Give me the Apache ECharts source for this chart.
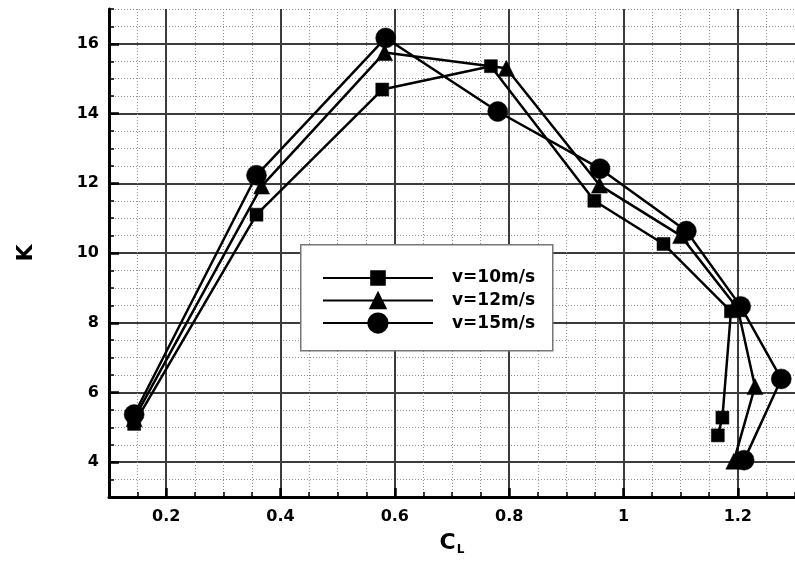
<!DOCTYPE html>
<html><head><meta charset="utf-8">
<script src="https://cdn.jsdelivr.net/npm/echarts@6/dist/echarts.min.js"></script>
<style>html,body{margin:0;padding:0;background:#fff}#c{width:795px;height:561px}</style>
</head><body><div id="c"></div>
<script>
// ---- data ----
const seriesNames = ['v=10m/s', 'v=12m/s', 'v=15m/s'];
const cl10 = [0.144, 0.358, 0.578, 0.768, 0.949, 1.070, 1.188, 1.173, 1.165];
const k10  = [5.10, 11.10, 14.69, 15.36, 11.50, 10.26, 8.33, 5.28, 4.77];
const cl12 = [0.144, 0.367, 0.582, 0.795, 0.958, 1.100, 1.200, 1.230, 1.193];
const k12  = [5.25, 11.92, 15.75, 15.30, 11.95, 10.50, 8.40, 6.17, 4.03];
const cl15 = [0.144, 0.358, 0.584, 0.780, 0.959, 1.110, 1.205, 1.276, 1.211];
const k15  = [5.37, 12.23, 16.17, 14.06, 12.42, 10.63, 8.47, 6.39, 4.06];
const xTickLabels = [0.2, 0.4, 0.6, 0.8, 1.0, 1.2];
const yTickLabels = [4, 6, 8, 10, 12, 14, 16];

const pairs = (xs, ys) => xs.map((x, i) => [x, ys[i]]);
const FONT = 'DejaVu Sans';
const labelFont = {fontFamily: FONT, fontWeight: 'bold', fontSize: 16, color: '#000'};
const isX = v => xTickLabels.some(t => Math.abs(t - v) < 1e-6);
const isY = v => yTickLabels.some(t => Math.abs(t - v) < 1e-6);

const chart = echarts.init(document.getElementById('c'), null, {renderer: 'canvas'});
const minorSplit = {show: true, lineStyle: {color: '#8f8f8f', type: [1, 2], width: 1}};
const majorSplit = {show: true, lineStyle: {color: ['transparent', '#3c3c3c'], width: 2}};

const symbols = ['rect', 'triangle', 'circle'];
const sizes = [13, 16, 20];
const legendH = [17, 19, 24];
const rowY = [278, 301.5, 324.5];

chart.setOption({
  animation: false,
  backgroundColor: '#fff',
  grid: {left: 109, top: 9, width: 688, height: 497, containLabel: false},
  xAxis: [
    {type: 'value', min: 0.1, max: 1.3, interval: 0.05, position: 'bottom',
     axisLine: {onZero: false, lineStyle: {color: '#000', width: 3}},
     axisTick: {inside: true, length: 5, lineStyle: {color: '#000', width: 1.5}},
     axisLabel: {show: false}, splitLine: minorSplit},
    {type: 'value', min: 0.1, max: 1.3, interval: 0.1, position: 'bottom',
     axisLine: {show: false}, axisTick: {show: false}, axisLabel: {show: false},
     splitLine: majorSplit},
    {type: 'value', min: 0.1, max: 1.3, interval: 0.1, position: 'bottom',
     axisLine: {show: false},
     axisTick: {show: true, inside: true, length: 9, customValues: xTickLabels, lineStyle: {color: '#000', width: 2.5}},
     axisLabel: Object.assign({customValues: xTickLabels, margin: 12,
       formatter: v => isX(v) ? String(+(+v).toFixed(1)) : ''}, labelFont),
     splitLine: {show: false},
     name: '{c|C}{l|L}', nameLocation: 'middle', nameGap: 31,
     nameTextStyle: {rich: {
       c: {fontFamily: FONT, fontWeight: 'bold', fontSize: 22, color: '#000', lineHeight: 26},
       l: {fontFamily: FONT, fontWeight: 'bold', fontSize: 12, color: '#000', lineHeight: 26, padding: [14, 0, 0, 1]}
     }}}
  ],
  yAxis: [
    {type: 'value', min: 3, max: 17, interval: 0.5, position: 'left',
     axisLine: {onZero: false, lineStyle: {color: '#000', width: 3}},
     axisTick: {inside: true, length: 5, lineStyle: {color: '#000', width: 1.5}},
     axisLabel: {show: false}, splitLine: minorSplit},
    {type: 'value', min: 3, max: 17, interval: 1, position: 'left',
     axisLine: {show: false}, axisTick: {show: false}, axisLabel: {show: false},
     splitLine: majorSplit},
    {type: 'value', min: 3, max: 17, interval: 1, position: 'left',
     axisLine: {show: false},
     axisTick: {show: true, inside: true, length: 10, customValues: yTickLabels, lineStyle: {color: '#000', width: 2.5}},
     axisLabel: Object.assign({customValues: yTickLabels, margin: 10,
       formatter: v => isY(v) ? String(v) : ''}, labelFont),
     splitLine: {show: false},
     name: 'K', nameLocation: 'middle', nameRotate: 90, nameGap: 72,
     nameTextStyle: {fontFamily: FONT, fontWeight: 'bold', fontSize: 22, color: '#000'}}
  ],
  legend: seriesNames.map((n, i) => ({
    data: [n], left: 322, top: rowY[i] - legendH[i] / 2, padding: 0,
    itemWidth: 110, itemHeight: legendH[i], selectedMode: false,
    textStyle: {fontFamily: FONT, fontWeight: 'bold', fontSize: 17, color: '#000', padding: [0, 0, 0, 14]}
  })),
  graphic: [{
    type: 'rect', left: 300, top: 244, z: 3,
    shape: {width: 252, height: 106},
    style: {fill: '#fff', stroke: '#777', lineWidth: 1.5}
  }],
  series: [pairs(cl10, k10), pairs(cl12, k12), pairs(cl15, k15)].map((d, i) => ({
    name: seriesNames[i], type: 'line', data: d, xAxisIndex: 0, yAxisIndex: 0,
    symbol: symbols[i], symbolSize: sizes[i], showAllSymbol: true,
    lineStyle: {color: '#000', width: 2.5},
    itemStyle: {color: '#000', borderColor: '#000', borderWidth: 0.5},
    z: 2 + i * 0.1
  }))
});
</script></body></html>
